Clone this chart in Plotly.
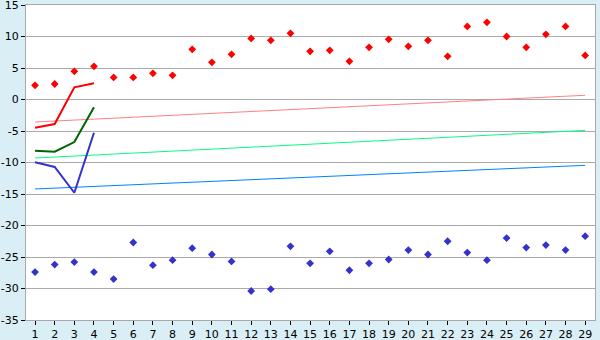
import plotly.graph_objects as go

x_all = list(range(1, 30))
red_points = [2.25, 2.46, 4.48, 5.27, 3.5, 3.5, 4.15, 3.84, 7.97, 5.9, 7.17, 9.7, 9.4, 10.5,
              7.65, 7.8, 6.06, 8.28, 9.55, 8.44, 9.4, 6.85, 11.6, 12.25, 10.0, 8.28, 10.35, 11.6, 7.0]
blue_points = [-27.4, -26.2, -25.8, -27.4, -28.5, -22.7, -26.3, -25.5, -23.6, -24.6, -25.7, -30.4,
               -30.1, -23.3, -26.0, -24.1, -27.1, -26.0, -25.4, -23.9, -24.6, -22.5, -24.3, -25.5,
               -22.0, -23.5, -23.1, -23.9, -21.7]
x_short = [1, 2, 3, 4]
red_line = [-4.47, -3.9, 1.94, 2.57]
green_line = [-8.12, -8.28, -6.75, -1.24]
blue_line = [-9.97, -10.7, -14.8, -5.27]
trend_x = [1, 29]
pink_trend = [-3.57, 0.67]
green_trend = [-9.29, -4.9]
blue_trend = [-14.2, -10.45]
y_ticks = [15, 10, 5, 0, -5, -10, -15, -20, -25, -30, -35]
y_ticktext = ["15", "10", "5", "0", "-5", "-10", "-15", "-20", "-25", "-30", "-35"]

fig = go.Figure()
fig.add_trace(go.Scatter(x=trend_x, y=pink_trend, mode="lines", line=dict(color="#ff8080", width=1)))
fig.add_trace(go.Scatter(x=trend_x, y=green_trend, mode="lines", line=dict(color="#00ff80", width=1)))
fig.add_trace(go.Scatter(x=trend_x, y=blue_trend, mode="lines", line=dict(color="#0080ff", width=1)))
fig.add_trace(go.Scatter(x=x_short, y=red_line, mode="lines", line=dict(color="#ff0000", width=2)))
fig.add_trace(go.Scatter(x=x_short, y=green_line, mode="lines", line=dict(color="#006400", width=2)))
fig.add_trace(go.Scatter(x=x_short, y=blue_line, mode="lines", line=dict(color="#3333cc", width=2)))
fig.add_trace(go.Scatter(x=x_all, y=red_points, mode="markers",
                         marker=dict(symbol="diamond", size=6, color="#ff0000", line=dict(width=0))))
fig.add_trace(go.Scatter(x=x_all, y=blue_points, mode="markers",
                         marker=dict(symbol="diamond", size=6, color="#3333cc", line=dict(width=0))))

fig.update_layout(
    width=600, height=340,
    margin=dict(l=26, r=5, t=5, b=20, autoexpand=False),
    paper_bgcolor="#d9eef5",
    plot_bgcolor="#ffffff",
    showlegend=False,
    font=dict(family="DejaVu Sans", size=11, color="#000000"),
)
fig.update_xaxes(range=[0.54, 29.5], tickmode="array", tickvals=x_all, ticktext=[str(v) for v in x_all],
                 showgrid=False, zeroline=False, showline=True, linecolor="#a8a8a8", linewidth=1, mirror=True,
                 ticks="outside", ticklen=4, tickcolor="#000000", tickfont=dict(size=11),
                 automargin=False, ticklabeloverflow="allow")
fig.update_yaxes(range=[-35, 15], tickmode="array", tickvals=y_ticks, ticktext=y_ticktext,
                 showgrid=True, gridcolor="#aaaaaa", gridwidth=1, zeroline=False,
                 showline=True, linecolor="#a8a8a8", linewidth=1, mirror=True,
                 ticks="outside", ticklen=4, tickcolor="#000000", tickfont=dict(size=11),
                 ticklabelstandoff=0, automargin=False, ticklabeloverflow="allow")

fig.write_html("out.html")
